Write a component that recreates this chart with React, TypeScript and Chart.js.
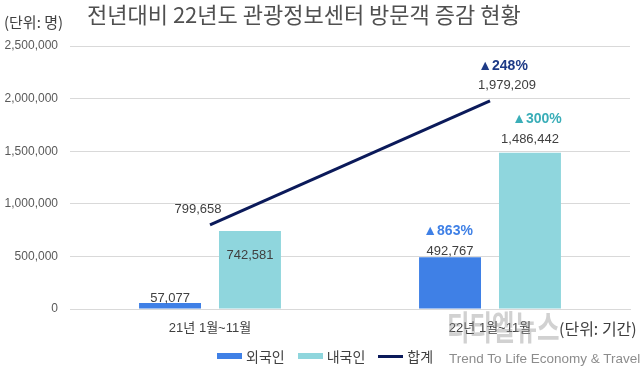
import React, { useEffect, useRef } from "react";
import { Chart, registerables } from "chart.js";

Chart.register(...registerables);

const categories = ["21년 1월~11월", "22년 1월~11월"];
const foreign = [57077, 492767];
const domestic = [742581, 1486442];
const total = [799658, 1979209];
const growth = { foreign: "▲863%", domestic: "▲300%", total: "▲248%" };
const yTicks = [0, 500000, 1000000, 1500000, 2000000, 2500000];

const FONT = '"Liberation Sans", "Noto Sans CJK KR", Arial, sans-serif';
const KFONT = '"Noto Sans CJK KR", "Liberation Sans", sans-serif';
const BLUE = "#3f80e6";
const TEAL = "#8fd6dd";
const NAVY = "#0b1a5a";

const fmt = (v: number) => v.toLocaleString("en-US");

const labelPlugin = {
  id: "valueLabels",
  afterDatasetsDraw(chart: any) {
    const ctx = chart.ctx;
    ctx.save();
    ctx.textAlign = "center";
    ctx.textBaseline = "middle";
    const f = chart.getDatasetMeta(0).data;
    const d = chart.getDatasetMeta(1).data;
    const t = chart.getDatasetMeta(2).data;
    ctx.font = `13px ${FONT}`;
    ctx.fillStyle = "#404040";
    f.forEach((el: any, i: number) => {
      const dy = i === 0 ? 5 : 6;
      ctx.fillText(fmt(foreign[i]), el.x, el.y - dy);
    });
    d.forEach((el: any, i: number) => {
      if (i === 0) ctx.fillText(fmt(domestic[i]), el.x, el.y + 25);
      else ctx.fillText(fmt(domestic[i]), el.x, el.y - 13);
    });
    ctx.fillText(fmt(total[0]), t[0].x - 12, t[0].y - 15);
    ctx.fillText(fmt(total[1]), t[1].x + 17, t[1].y - 15);
    ctx.font = `bold 14px ${FONT}`;
    ctx.fillStyle = BLUE;
    ctx.fillText(growth.foreign, f[1].x - 2, f[1].y - 26);
    ctx.fillStyle = "#3aaeb8";
    ctx.fillText(growth.domestic, d[1].x + 7, d[1].y - 33);
    ctx.fillStyle = "#1d3a86";
    ctx.fillText(growth.total, t[1].x + 13, t[1].y - 35);
    ctx.restore();
  },
};

export default function App() {
  const ref = useRef<HTMLCanvasElement | null>(null);
  useEffect(() => {
    document.body.style.margin = "0";
    const chart = new Chart(ref.current as HTMLCanvasElement, {
      type: "bar",
      data: {
        labels: categories,
        datasets: [
          {
            label: "외국인",
            data: foreign,
            backgroundColor: BLUE,
            categoryPercentage: 0.571,
            barPercentage: 0.775,
            order: 2,
          },
          {
            label: "내국인",
            data: domestic,
            backgroundColor: TEAL,
            categoryPercentage: 0.571,
            barPercentage: 0.775,
            order: 2,
          },
          {
            type: "line",
            label: "합계",
            data: total,
            borderColor: NAVY,
            backgroundColor: NAVY,
            borderWidth: 3,
            pointRadius: 0,
            order: 1,
          } as any,
        ],
      },
      options: {
        animation: false,
        responsive: false,
        maintainAspectRatio: false,
        layout: { padding: { top: 46, right: 10, left: 0, bottom: 0 } },
        plugins: {
          legend: { display: false },
          title: { display: false },
          tooltip: { enabled: false },
        },
        scales: {
          x: {
            grid: { display: false, drawTicks: false },
            border: { display: true, color: "#d9d9d9" },
            ticks: {
              padding: 12,
              color: "#404040",
              font: { family: FONT, size: 13 },
            },
            afterFit: (s: any) => {
              s.height = 59;
            },
          },
          y: {
            min: 0,
            max: 2500000,
            afterBuildTicks: (s: any) => {
              s.ticks = yTicks.map((v) => ({ value: v }));
            },
            grid: { color: "#d9d9d9", drawTicks: false },
            border: { display: false },
            ticks: {
              padding: 12,
              color: "#595959",
              font: { family: FONT, size: 12 },
              callback: (v: any) => fmt(Number(v)),
            },
            afterFit: (s: any) => {
              s.width = 70;
            },
          },
        },
      },
      plugins: [labelPlugin],
    } as any);
    return () => chart.destroy();
  }, []);

  const legendItem = (color: string, text: string, line: boolean) => (
    <div style={{ display: "flex", alignItems: "center", marginRight: 13 }}>
      <div
        style={{
          width: 25,
          height: line ? 3 : 6,
          background: color,
          marginRight: 4,
        }}
      />
      <span style={{ fontFamily: KFONT, fontSize: 14, color: "#404040" }}>{text}</span>
    </div>
  );

  return (
    <div style={{ position: "relative", width: 640, height: 368, background: "#fff", overflow: "hidden" }}>
      <canvas ref={ref} width={640} height={368} style={{ display: "block" }} />
      <div
        style={{
          position: "absolute",
          left: 87,
          top: -3,
          fontFamily: KFONT,
          fontSize: 22,
          color: "#505050",
          whiteSpace: "nowrap",
        }}
      >
        전년대비 22년도 관광정보센터 방문객 증감 현황
      </div>
      <div
        style={{
          position: "absolute",
          left: 4,
          top: 11,
          fontFamily: KFONT,
          fontSize: 15,
          color: "#404040",
        }}
      >
        (단위: 명)
      </div>
      <div
        style={{
          position: "absolute",
          left: 447,
          top: 301,
          fontFamily: KFONT,
          fontSize: 34,
          fontWeight: 700,
          color: "rgba(140,140,140,0.4)",
          whiteSpace: "nowrap",
          transform: "scaleX(0.72)",
          transformOrigin: "left top",
        }}
      >
        티티엘뉴스
      </div>
      <div
        style={{
          position: "absolute",
          left: 559,
          top: 316,
          fontFamily: KFONT,
          fontSize: 16,
          color: "#404040",
          whiteSpace: "nowrap",
        }}
      >
        (단위: 기간)
      </div>
      <div
        style={{
          position: "absolute",
          left: 217,
          top: 346,
          display: "flex",
          alignItems: "center",
        }}
      >
        {legendItem(BLUE, "외국인", false)}
        {legendItem(TEAL, "내국인", false)}
        {legendItem(NAVY, "합계", true)}
      </div>
      <div
        style={{
          position: "absolute",
          left: 449,
          top: 351,
          fontFamily: FONT,
          fontSize: 13.5,
          color: "rgba(120,120,120,0.85)",
          whiteSpace: "nowrap",
        }}
      >
        Trend To Life Economy &amp; Travel
      </div>
    </div>
  );
}
